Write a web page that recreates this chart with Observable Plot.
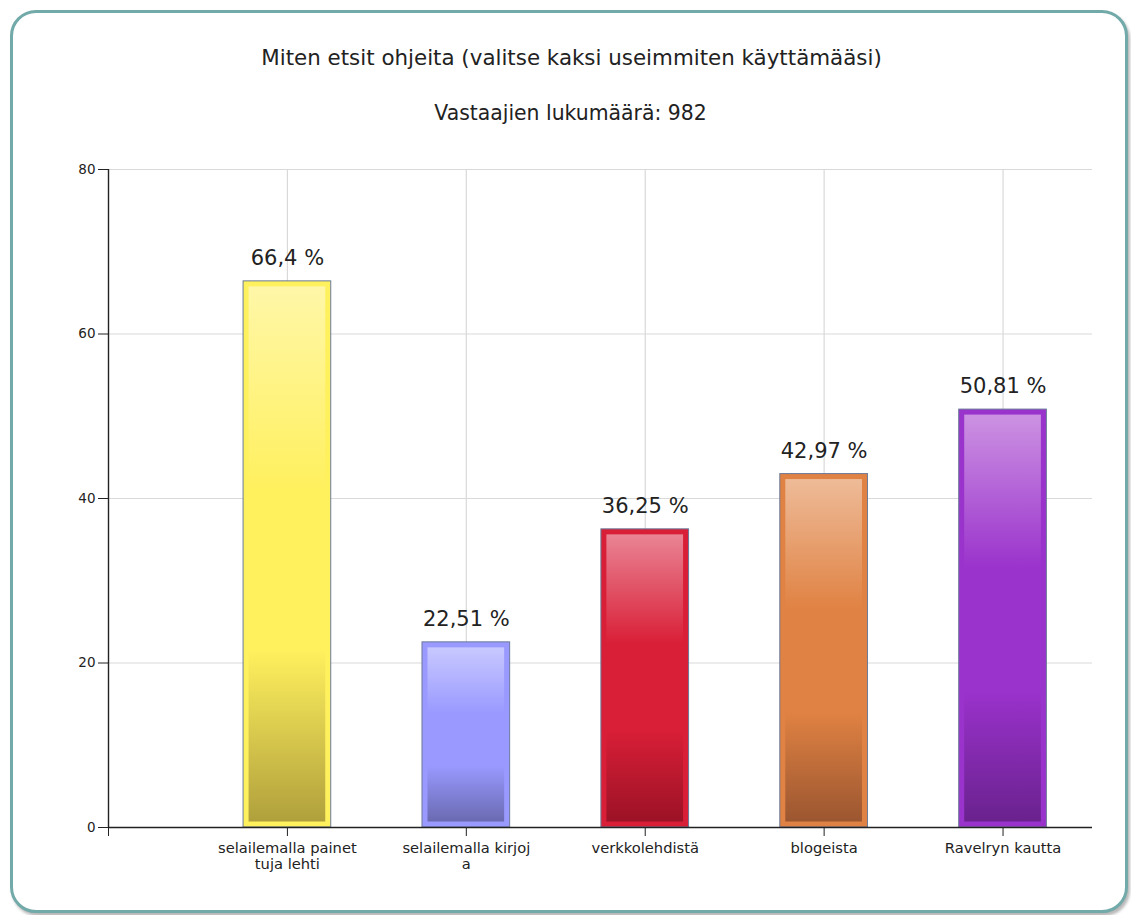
<!DOCTYPE html>
<html><head><meta charset="utf-8">
<script src="https://cdn.jsdelivr.net/npm/d3@7"></script>
<script src="https://cdn.jsdelivr.net/npm/@observablehq/plot@0.6"></script>
<style>
html,body{margin:0;padding:0;background:#fff;}
#wrap{position:relative;width:1131px;height:915px;overflow:hidden;font-family:"DejaVu Sans",Verdana,sans-serif;color:#222;}
#frame{position:absolute;left:10px;top:10px;width:1118px;height:903px;border:3px solid #72a9a9;border-radius:26px;box-shadow:2px 3px 3px #b8b8b8;box-sizing:border-box;background:#fff;}
#title{position:absolute;left:0;width:1143px;top:47px;text-align:center;font-size:21.4px;line-height:1;white-space:nowrap;}
#subtitle{position:absolute;left:0;width:1141px;top:103px;text-align:center;font-size:20.4px;line-height:1;white-space:nowrap;}
#chart{position:absolute;left:0;top:140px;}
#chart svg{overflow:visible;}
</style>
</head><body>
<div id="wrap">
  <div id="frame"></div>
  <div id="title">Miten etsit ohjeita (valitse kaksi useimmiten käyttämääsi)</div>
  <div id="subtitle">Vastaajien lukumäärä: 982</div>
  <div id="chart"></div>
</div>
<script>
const categories = ["selailemalla painet\ntuja lehti", "selailemalla kirjoj\na", "verkkolehdistä", "blogeista", "Ravelryn kautta"];
const values = [66.4, 22.51, 36.25, 42.97, 50.81];
const valueLabels = ["66,4 %", "22,51 %", "36,25 %", "42,97 %", "50,81 %"];
const baseColors = ["#fff05e", "#9999ff", "#d91f37", "#e08243", "#9a32cc"];
const lightColors = ["#fff7a8", "#c8c8ff", "#e98494", "#eebb98", "#cc92e2"];
const darkColors = ["#b0a03c", "#6a6ab2", "#9c1226", "#9c5630", "#6a228e"];
const yTicks = [0, 20, 40, 60, 80];

const data = categories.map((c, i) => ({
  pos: i + 1, cat: c, value: values[i], label: valueLabels[i],
  base: baseColors[i], grad: `url(#bargrad${i})`
}));

const chart = Plot.plot({
  width: 1131,
  height: 760,
  marginTop: 29,
  marginBottom: 73,
  marginLeft: 108,
  marginRight: 39,
  style: {fontFamily: '"DejaVu Sans", Verdana, sans-serif', color: "#222", background: "transparent"},
  x: {domain: [0, 5.5]},
  y: {domain: [0, 80]},
  color: {type: "identity"},
  marks: [
    Plot.gridY(yTicks, {stroke: "#d9d9d9", strokeOpacity: 1, strokeWidth: 1.2}),
    Plot.gridX([1, 2, 3, 4, 5], {stroke: "#d9d9d9", strokeOpacity: 1, strokeWidth: 1.2}),
    Plot.rect(data, {x1: d => d.pos - 0.245, x2: d => d.pos + 0.245, y1: 0, y2: "value", fill: "base", stroke: "#6b7a99", strokeWidth: 1}),
    Plot.rect(data, {x1: d => d.pos - 0.245, x2: d => d.pos + 0.245, y1: 0, y2: "value", fill: "grad", inset: 5.5}),
    Plot.text(data, {x: "pos", y: "value", text: "label", dy: -23, fontSize: 21, fill: "#222"}),
    Plot.axisY({ticks: yTicks, tickSize: 10, tickPadding: 3, fontSize: 13.5, label: null, stroke: "#222"}),
    Plot.axisX({ticks: [0, 1, 2, 3, 4, 5], tickFormat: d => d === 0 ? "" : categories[d - 1], tickSize: 9, tickPadding: 4, fontSize: 14.7, lineHeight: 1.15, label: null, stroke: "#222"}),
    Plot.ruleX([0], {stroke: "#222", strokeWidth: 1.4}),
    Plot.ruleY([0], {stroke: "#222", strokeWidth: 1.4})
  ]
});

const defs = d3.select(chart).insert("defs", ":first-child");
data.forEach((d, i) => {
  const g = defs.append("linearGradient").attr("id", `bargrad${i}`)
    .attr("x1", 0).attr("y1", 0).attr("x2", 0).attr("y2", 1);
  g.append("stop").attr("offset", "0%").attr("stop-color", lightColors[i]);
  g.append("stop").attr("offset", "38%").attr("stop-color", baseColors[i]);
  g.append("stop").attr("offset", "68%").attr("stop-color", baseColors[i]);
  g.append("stop").attr("offset", "100%").attr("stop-color", darkColors[i]);
});

document.getElementById("chart").appendChild(chart);
</script>
</body></html>
